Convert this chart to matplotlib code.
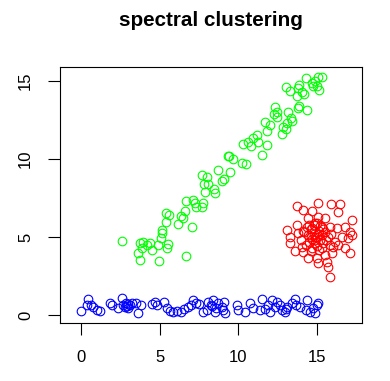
import matplotlib
matplotlib.use("Agg")
import matplotlib.pyplot as plt

plt.rcParams['font.family'] = ['Liberation Sans', 'DejaVu Sans']

# cluster 1 (blue), band along the bottom
blue_x = [0.0, 0.42, 0.36, 0.64, 0.78, 1.0, 1.21, 1.84, 1.99, 2.33, 2.58, 2.69, 2.8, 2.86,
          2.97, 3.12, 3.26, 3.48, 3.64, 3.81, 4.53, 4.7, 4.81, 5.3, 5.45, 5.66, 5.87, 6.08,
          6.36, 6.57, 6.78, 6.99, 7.14, 7.29, 7.5, 7.78, 8.09, 8.24, 8.41, 7.99, 8.52, 8.73,
          8.94, 9.09, 9.15, 9.9, 10.0, 10.43, 10.74, 10.95, 11.38, 11.49, 11.7, 11.91, 12.02,
          12.12, 12.33, 12.48, 12.65, 12.76, 12.97, 13.12, 13.4, 13.6, 13.67, 13.92, 14.35,
          14.3, 14.56, 14.77, 14.98, 15.09, 14.88, 2.9, 3.0, 8.3, 8.6, 13.0, 9.0]
blue_y = [0.26, 1.0, 0.64, 0.64, 0.49, 0.32, 0.26, 0.79, 0.64, 0.43, 1.07, 0.64, 0.53, 0.75,
          0.43, 0.64, 0.79, 0.75, 0.1, 0.64, 0.7, 0.85, 0.64, 0.85, 0.43, 0.28, 0.21, 0.28,
          0.21, 0.38, 0.53, 0.64, 0.96, 0.79, 0.7, 0.21, 0.85, 0.64, 0.96, 0.32, 0.21, 0.75,
          0.53, 0.85, 0.1, 0.64, 0.32, 0.21, 0.75, 0.43, 0.32, 1.0, 0.38, 0.64, 0.21, 0.96,
          0.53, 0.85, 0.64, 0.32, 0.21, 0.53, 0.79, 1.0, 0.64, 0.53, 0.96, 0.32, 0.21, 0.43,
          0.64, 0.75, 0.15, 0.6, 0.7, 0.55, 0.45, 0.4, 0.3]

# cluster 2 (green), diagonal band
green_x = [2.58, 3.75, 3.96, 3.86, 3.64, 3.75, 4.18, 4.39, 4.53, 4.91, 4.96, 5.09, 5.13, 5.17,
           5.45, 5.51, 5.4, 5.59, 5.4, 6.19, 6.65, 6.36, 6.5, 6.61, 6.65, 7.08, 7.14, 7.25,
           7.29, 7.78, 7.71, 7.71, 7.99, 7.84, 8.09, 7.88, 8.47, 8.52, 8.73, 8.94, 9.11, 9.33,
           9.47, 9.43, 9.64, 10.22, 10.49, 10.32, 10.64, 10.79, 10.95, 11.17, 11.27, 11.49,
           11.84, 11.7, 11.84, 12.02, 12.33, 12.27, 12.48, 12.44, 12.76, 12.86, 13.03, 13.12,
           13.18, 13.33, 13.4, 13.82, 13.88, 14.39, 13.03, 13.29, 13.71, 13.82, 13.88, 14.03,
           14.18, 14.3, 14.67, 14.77, 14.88, 15.02, 15.15, 15.09, 15.3]
green_y = [4.74, 4.64, 4.7, 4.27, 3.99, 3.53, 4.49, 4.64, 4.17, 4.49, 3.46, 4.92, 5.24, 5.45,
           4.27, 4.53, 6.52, 6.41, 5.98, 5.83, 3.8, 6.37, 6.2, 6.69, 7.31, 5.66, 7.37, 7.2,
           6.94, 7.2, 6.94, 8.97, 8.87, 8.4, 8.38, 7.9, 8.06, 7.8, 9.29, 8.61, 8.7, 10.19,
           9.15, 10.21, 9.98, 9.76, 9.66, 10.94, 11.11, 10.85, 11.32, 11.54, 11.07, 10.26,
           10.9, 12.35, 11.79, 12.18, 13.35, 12.87, 13.03, 12.71, 11.58, 12.07, 11.92, 12.29,
           13.03, 12.65, 12.44, 13.29, 13.42, 13.14, 14.63, 14.36, 14.06, 14.53, 14.74, 14.31,
           14.15, 15.17, 14.85, 14.7, 15.0, 14.7, 14.42, 15.28, 15.28]

# cluster 3 (red), blob on the right
red_x = [13.71, 14.13, 14.67, 15.05, 15.89, 16.47, 16.36, 14.45, 15.09, 15.51, 17.21, 13.08,
         13.29, 13.71, 13.82, 14.35, 14.88, 15.3, 15.83, 16.26, 16.78, 17.1, 17.25, 16.99,
         16.57, 16.15, 16.36, 16.04, 16.78, 17.1, 14.13, 14.03, 14.45, 14.98, 15.09, 15.62,
         15.72, 15.83, 15.51, 15.94, 14.67,
         14.6, 14.8, 15.0, 15.2, 14.9, 14.7, 15.1, 15.3, 14.5, 15.0, 14.8, 15.4, 14.4, 15.2,
         14.9, 15.1, 14.6, 15.5, 14.3, 15.6, 14.7, 15.0, 14.2, 15.3, 14.9, 15.1, 14.6, 15.4,
         15.7, 14.5, 13.3, 13.6, 15.8, 14.1, 15.9, 14.0]
red_y = [7.01, 6.73, 6.67, 7.16, 7.1, 7.1, 6.62, 6.2, 6.3, 6.2, 6.09, 5.45, 5.02, 5.77, 5.24,
         5.66, 5.88, 5.66, 5.66, 5.56, 5.66, 5.34, 5.13, 4.92, 5.02, 4.7, 4.49, 4.38, 4.27,
         3.95, 4.06, 4.38, 3.63, 3.63, 3.31, 3.42, 3.1, 2.46, 3.85, 3.95, 4.27,
         5.5, 5.2, 5.0, 4.8, 4.6, 4.9, 5.4, 5.1, 4.7, 4.4, 5.8, 4.6, 5.1, 5.7, 5.0, 4.2, 4.1,
         5.3, 4.5, 4.8, 5.6, 5.9, 5.3, 4.3, 4.8, 5.2, 5.0, 5.5, 5.0, 5.8, 4.6, 4.1, 4.5, 5.4,
         5.2, 4.8]

x_ticks = [0, 5, 10, 15]
y_ticks = [0, 5, 10, 15]

fig = plt.figure(figsize=(3.9, 3.81), dpi=100)
ax = fig.add_axes([0.1538, 0.1522, 0.7744, 0.6719])

style = dict(linestyle='none', marker='o', markerfacecolor='none', markersize=6.2,
             markeredgewidth=0.8)
ax.plot(blue_x, blue_y, markeredgecolor='#0000FF', **style)
ax.plot(red_x, red_y, markeredgecolor='#FF0000', **style)
ax.plot(green_x, green_y, markeredgecolor='#00FF00', **style)

ax.set_xlim(-1.33, 17.86)
ax.set_ylim(-0.51, 15.9)
ax.set_xticks(x_ticks)
ax.set_yticks(y_ticks)
ax.tick_params(length=8.5, width=0.8, labelsize=12, pad=11)
for lab in ax.get_yticklabels():
    lab.set_rotation(90)
    lab.set_va('center')
for s in ax.spines.values():
    s.set_linewidth(0.8)

fig.text(0.541, 1 - 20 / 381, 'spectral clustering', ha='center', va='center',
         fontsize=14.9, fontweight='bold')

fig.savefig('out.png', dpi=100)
